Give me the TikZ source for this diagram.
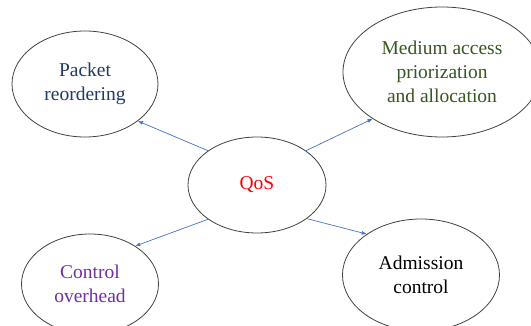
\documentclass[tikz,border=0pt]{standalone}
\usepackage{fontspec}
\setmainfont{Liberation Serif}
\usetikzlibrary{shapes.geometric, arrows.meta}
\definecolor{linkColor}{RGB}{68,114,196}
\definecolor{reorderColor}{RGB}{31,56,100}
\definecolor{mediumColor}{RGB}{55,86,35}
\definecolor{overheadColor}{RGB}{112,48,160}
\definecolor{rimColor}{RGB}{64,64,64}
\tikzstyle{plane} = [x = 1pt, y = -1pt]
\tikzstyle{bubble} = [ellipse, draw=rimColor, thick, inner sep=0pt, align=center, font=\fontsize{19.5}{24}\selectfont]
\tikzstyle{link} = [color=linkColor, line width=0.7pt, -{Latex[length=5pt, width=4pt]}]

\begin{document}
\begin{tikzpicture}[plane]
  \useasboundingbox (0,0) rectangle (531,326);
  \clip (0,0) rectangle (531,326);
  % centre
  \node [bubble, minimum width=138pt, minimum height=96pt, text=red] (qos) at (257,185) {QoS};
  % four aspects
  \node [bubble, minimum width=146pt, minimum height=106pt, text=reorderColor] (reorder) at (85,84) {Packet\\reordering};
  \node [bubble, minimum width=198pt, minimum height=130pt, text=mediumColor] (medium) at (442,72) {Medium access\\priorization\\and allocation};
  \node [bubble, minimum width=137pt, minimum height=100pt, text=overheadColor] (overhead) at (90,284) {Control\\overhead};
  \node [bubble, minimum width=157pt, minimum height=112pt, text=black] (admission) at (421,275) {Admission\\control};
  % links
  \draw [link] (qos.145) -- (reorder.-35);
  \draw [link] (qos.35) -- (medium.-146);
  \draw [link] (qos.215) -- (overhead.40);
  \draw [link] (qos.-34) -- (admission.143);
\end{tikzpicture}
\end{document}
